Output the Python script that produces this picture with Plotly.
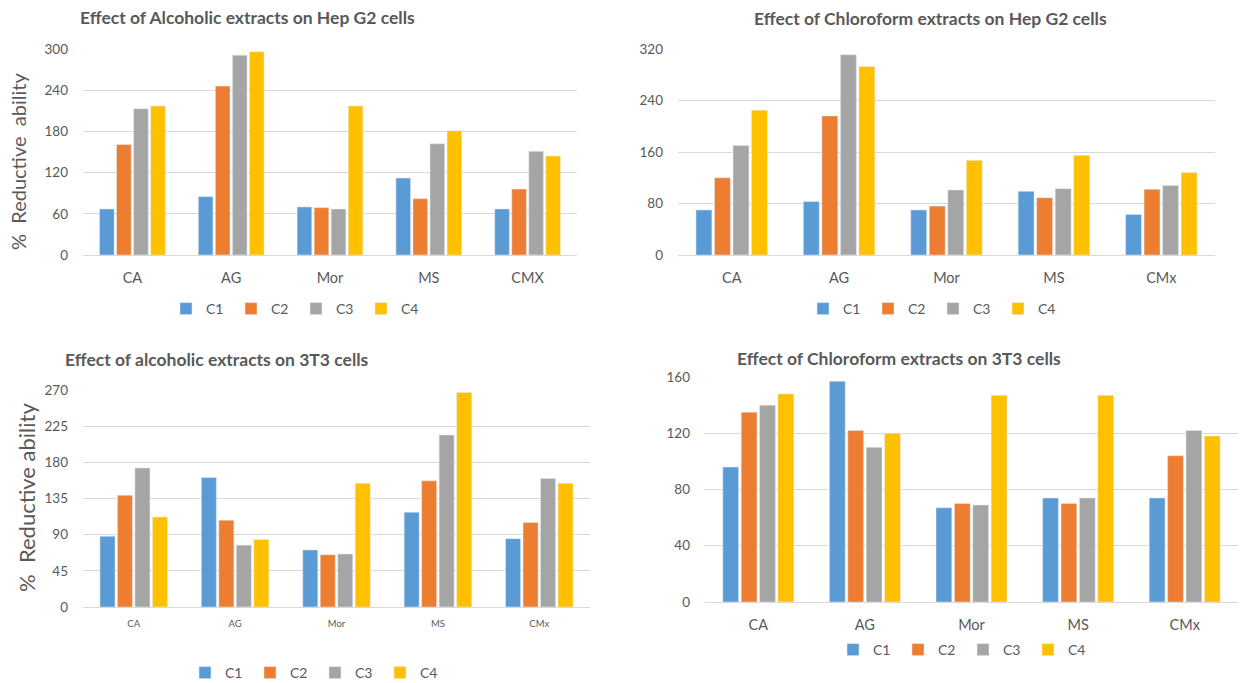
import plotly.graph_objects as go

W, H = 1241, 683
categories_p1 = ["CA", "AG", "Mor", "MS", "CMX"]
categories = ["CA", "AG", "Mor", "MS", "CMx"]
series = ["C1", "C2", "C3", "C4"]
colors = ["#5B9BD5", "#ED7D31", "#A5A5A5", "#FFC000"]

# Panel 1: Alcoholic extracts on Hep G2
alc_hep = {
    "C1": [67, 85, 70, 112, 67],
    "C2": [161, 246, 69, 82, 96],
    "C3": [213, 291, 67, 162, 151],
    "C4": [217, 296, 217, 181, 144],
}
# Panel 2: Chloroform extracts on Hep G2
chl_hep = {
    "C1": [70, 83, 70, 99, 63],
    "C2": [120, 216, 76, 89, 102],
    "C3": [170, 311, 101, 103, 108],
    "C4": [225, 293, 147, 155, 128],
}
# Panel 3: alcoholic extracts on 3T3
alc_3t3 = {
    "C1": [88, 161, 71, 118, 85],
    "C2": [139, 108, 65, 157, 105],
    "C3": [173, 77, 66, 214, 160],
    "C4": [112, 84, 154, 267, 154],
}
# Panel 4: Chloroform extracts on 3T3
chl_3t3 = {
    "C1": [96, 157, 67, 74, 74],
    "C2": [135, 122, 70, 70, 104],
    "C3": [140, 110, 69, 74, 122],
    "C4": [148, 120, 147, 147, 118],
}

titles = [
    "Effect of Alcoholic extracts on Hep G2 cells",
    "Effect of Chloroform extracts on Hep G2 cells",
    "Effect of alcoholic extracts on 3T3 cells",
    "Effect of Chloroform extracts on 3T3 cells",
]

FONT = "Lato"
GREY = "#595959"

def fx(p):
    return p / W

def fy(p):
    return 1 - p / H

panels = [
    # data, cats, x0, x1, ybottom, ytop, ymax, dtick, xfont
    (alc_hep, categories_p1, 83, 577, 255, 49, 300, 60, 14.5),
    (chl_hep, categories, 678, 1215, 255, 49, 320, 80, 14.5),
    (alc_3t3, categories, 83, 590, 607, 390, 270, 45, 9.5),
    (chl_3t3, categories, 705, 1238, 602, 377, 160, 40, 14.5),
]
legend_pos = [(296, 309), (933, 309), (315, 673), (963, 650)]

fig = go.Figure()
layout = {}
for i, (data, cats, x0, x1, yb, yt, ymax, dt, xf) in enumerate(panels):
    n = "" if i == 0 else str(i + 1)
    leg = "legend" if i == 0 else f"legend{i+1}"
    for s, c in zip(series, colors):
        fig.add_trace(go.Bar(
            x=cats, y=data[s], name=s, marker_color=c,
            xaxis="x" + n, yaxis="y" + n, legend=leg,
        ))
    layout["xaxis" + n] = dict(
        domain=[fx(x0), fx(x1)], anchor="y" + n, showgrid=False,
        showline=True, linecolor="#D9D9D9", linewidth=1, ticks="",
        tickfont=dict(family=FONT, size=xf, color=GREY),
        ticklabelstandoff=10 if xf > 10 else 8,
    )
    layout["yaxis" + n] = dict(
        domain=[fy(yb), fy(yt)], anchor="x" + n, range=[0, ymax], dtick=dt,
        showgrid=True, gridcolor="#D9D9D9", gridwidth=1, zeroline=False,
        showline=False, ticks="",
        tickfont=dict(family=FONT, size=13.5, color=GREY),
        ticklabelstandoff=14,
    )
    lx, ly = legend_pos[i]
    layout[leg] = dict(
        orientation="h", x=fx(lx), y=fy(ly), xanchor="center", yanchor="middle",
        font=dict(family=FONT, size=14, color=GREY), bgcolor="rgba(0,0,0,0)",
        itemwidth=30, tracegroupgap=0, entrywidth=20, entrywidthmode="pixels",
    )

annotations = [
    dict(text="<b>" + titles[0] + "</b>", x=fx(78), y=fy(17), xanchor="left"),
    dict(text="<b>" + titles[1] + "</b>", x=fx(930), y=fy(19), xanchor="center"),
    dict(text="<b>" + titles[2] + "</b>", x=fx(63), y=fy(359), xanchor="left"),
    dict(text="<b>" + titles[3] + "</b>", x=fx(735), y=fy(358), xanchor="left"),
]
for a in annotations:
    a.update(xref="paper", yref="paper", yanchor="middle", showarrow=False,
             font=dict(family=FONT, size=17.5, color=GREY))

annotations.append(dict(text="%  Reductive  ability", x=fx(18), y=fy(162),
                        xref="paper", yref="paper", textangle=-90, showarrow=False,
                        xanchor="center", yanchor="middle",
                        font=dict(family=FONT, size=20, color=GREY)))
annotations.append(dict(text="%  Reductive ability", x=fx(26), y=fy(498),
                        xref="paper", yref="paper", textangle=-90, showarrow=False,
                        xanchor="center", yanchor="middle",
                        font=dict(family=FONT, size=22, color=GREY)))

fig.update_layout(
    width=W, height=H, margin=dict(l=0, r=0, t=0, b=0, autoexpand=False),
    paper_bgcolor="white", plot_bgcolor="white",
    barmode="group", bargap=0.31, bargroupgap=0.14,
    annotations=annotations,
    **layout,
)

fig.write_html("out.html", config={"displayModeBar": False},
               post_script="document.body.style.margin='0';")
